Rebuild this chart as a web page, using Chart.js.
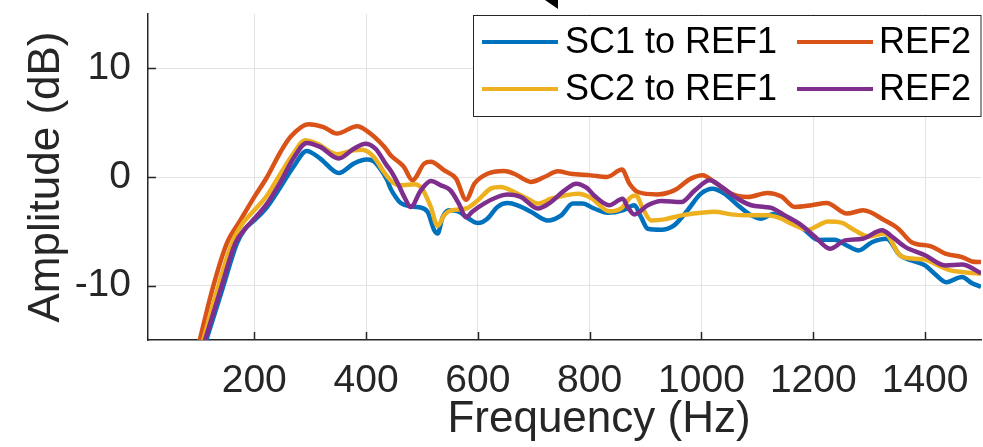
<!DOCTYPE html>
<html>
<head>
<meta charset="utf-8">
<script src="https://cdn.jsdelivr.net/npm/chart.js@4.4.1/dist/chart.umd.min.js"></script>
<style>
  html, body { margin: 0; padding: 0; background: #ffffff; }
  #wrap { width: 983px; height: 447px; }
</style>
</head>
<body>
<div id="wrap"><canvas id="chart" width="983" height="447"></canvas></div>
<script>
// values (frequency in Hz, amplitude in dB)
const sc1Freq = [100, 131, 145, 169, 184, 200, 223, 247, 270, 294, 318, 351, 378, 401, 412, 425, 438, 444, 453, 462, 480, 492, 510, 522, 528, 537, 549, 566, 584, 600, 617, 635, 653, 671, 695, 725, 749, 770, 787, 808, 832, 859, 880, 892, 904, 928, 951, 975, 999, 1020, 1041, 1065, 1089, 1107, 1128, 1143, 1161, 1185, 1209, 1238, 1260, 1281, 1305, 1331, 1355, 1376, 1400, 1417, 1438, 1466, 1484, 1500];
const sc1Amp = [-17.3, -12.3, -10, -6.1, -4.76, -4.0, -2.76, -0.92, 0.92, 2.4, 1.7, 0.37, 1.23, 1.6, 1.5, 0.8, -0.3, -1.07, -1.84, -2.4, -2.7, -2.76, -3.2, -4.9, -5.2, -3.7, -3.07, -3.2, -3.84, -4.24, -3.84, -2.76, -2.4, -2.6, -3.2, -4.0, -3.53, -2.45, -2.45, -2.9, -3.3, -3.07, -2.6, -3.7, -4.76, -4.85, -4.45, -3.07, -1.53, -1.07, -1.53, -2.6, -3.53, -3.84, -3.4, -3.7, -4.0, -4.9, -5.8, -5.77, -6.3, -6.76, -6.0, -5.68, -7.2, -7.68, -8.14, -8.9, -9.68, -9.2, -9.77, -10.1];

const ref2aFreq = [95, 127, 151, 175, 200, 223, 247, 265, 297, 324, 348, 384, 400, 433, 444, 462, 468, 483, 504, 516, 540, 561, 579, 594, 617, 647, 665, 695, 719, 743, 766, 802, 831, 858, 871, 886, 921, 951, 981, 1002, 1023, 1053, 1083, 1118, 1143, 1167, 1197, 1224, 1260, 1289, 1328, 1352, 1376, 1412, 1436, 1466, 1484, 1500];
const ref2aAmp = [-16.6, -10, -6.1, -4.0, -1.85, 0, 2.3, 3.7, 4.86, 4.6, 4.0, 4.67, 4.3, 2.77, 2.0, 1.23, 0.92, -0.3, 1.23, 1.4, 0.6, -0.15, -2.1, -0.6, 0.3, 0.55, 0.3, -0.45, 0, 0.52, 0.3, 0.15, 0, 0.68, -0.6, -1.38, -1.6, -1.23, -0.15, 0.16, -0.46, -1.53, -1.84, -1.47, -1.8, -2.76, -2.6, -2.4, -3.37, -3.07, -4.0, -4.76, -6.0, -6.4, -7.06, -7.37, -7.77, -7.83];

const sc2Freq = [100, 136, 160, 181, 200, 223, 247, 270, 291, 312, 348, 378, 393, 414, 432, 447, 462, 486, 500, 516, 528, 540, 552, 579, 600, 623, 641, 665, 689, 707, 731, 755, 779, 802, 835, 856, 874, 883, 895, 910, 934, 964, 999, 1023, 1053, 1083, 1118, 1143, 1161, 1191, 1209, 1226, 1250, 1274, 1298, 1328, 1355, 1376, 1400, 1424, 1445, 1469, 1500];
const sc2Amp = [-16.7, -10, -6.1, -4.15, -3.07, -1.7, 0.3, 2.15, 3.38, 3.07, 2.1, 2.46, 2.5, 1.84, 0.46, -0.46, -0.77, -0.67, -1.07, -2.76, -4.5, -3.5, -3.07, -2.9, -2.15, -1.07, -0.92, -1.38, -2.0, -2.45, -2.0, -1.7, -1.53, -1.9, -3.16, -2.9, -1.84, -1.7, -2.9, -4.0, -3.9, -3.53, -3.3, -3.2, -3.44, -3.53, -3.53, -3.84, -4.3, -4.85, -4.45, -4.1, -4.2, -4.9, -5.47, -5.2, -7.2, -7.5, -7.6, -8.14, -8.6, -8.76, -8.9];

const ref2bFreq = [100, 142, 166, 184, 200, 223, 247, 270, 294, 318, 351, 378, 399, 417, 437, 444, 456, 470, 480, 498, 516, 534, 551, 566, 579, 590, 611, 635, 653, 677, 707, 731, 755, 776, 795, 808, 835, 859, 868, 880, 904, 928, 964, 988, 1015, 1036, 1065, 1089, 1113, 1125, 1149, 1179, 1203, 1230, 1257, 1288, 1323, 1341, 1365, 1400, 1436, 1466, 1500];
const ref2bAmp = [-17, -10, -6.1, -4.76, -3.84, -2.45, -0.46, 1.7, 3.14, 2.77, 1.7, 2.6, 3.07, 2.6, 1.07, 0.6, -0.5, -2.0, -2.76, -1.23, -0.37, -0.77, -1.23, -2.45, -3.7, -3.2, -2.45, -1.84, -1.62, -1.84, -2.9, -2.3, -1.23, -0.61, -1.0, -1.7, -2.6, -2.0, -2.76, -3.44, -2.6, -2.2, -2.3, -1.23, -0.3, -0.92, -2.0, -2.6, -2.76, -2.85, -3.53, -4.45, -5.5, -6.6, -5.83, -5.68, -4.9, -5.5, -6.45, -7.2, -8.14, -8.05, -8.85];

const seriesLabels = ['SC1 to REF1', 'REF2', 'SC2 to REF1', 'REF2'];
const seriesColors = ['#0072BD', '#D95319', '#EDB120', '#7E2F8E'];
const xTicks = [200, 400, 600, 800, 1000, 1200, 1400];
const yTicks = [-10, 0, 10];
const xTitle = 'Frequency (Hz)';
const yTitle = 'Amplitude (dB)';

const FONT = "'Liberation Sans', Arial, Helvetica, sans-serif";
const AXIS_COLOR = '#262626';

function toPoints(freq, amp) {
  return freq.map((f, i) => ({ x: f, y: amp[i] }));
}

const dataSets = [
  [sc1Freq, sc1Amp],
  [ref2aFreq, ref2aAmp],
  [sc2Freq, sc2Amp],
  [ref2bFreq, ref2bAmp]
].map(([f, a], i) => ({
  label: seriesLabels[i],
  data: toPoints(f, a),
  borderColor: seriesColors[i],
  backgroundColor: seriesColors[i],
  borderWidth: 4.5,
  pointRadius: 0,
  cubicInterpolationMode: 'monotone',
  fill: false,
  order: 4 - i // later series on top, like MATLAB
}));

// inward tick marks on the left and bottom axes
const innerTicks = {
  id: 'innerTicks',
  afterDatasetsDraw(chart) {
    const { ctx, chartArea, scales } = chart;
    ctx.save();
    ctx.strokeStyle = AXIS_COLOR;
    ctx.lineWidth = 1.5;
    ctx.beginPath();
    xTicks.forEach(v => {
      const px = Math.round(scales.x.getPixelForValue(v)) + 0.5;
      ctx.moveTo(px, chartArea.bottom);
      ctx.lineTo(px, chartArea.bottom - 8);
    });
    yTicks.forEach(v => {
      const py = Math.round(scales.y.getPixelForValue(v)) + 0.5;
      ctx.moveTo(chartArea.left, py);
      ctx.lineTo(chartArea.left + 8, py);
    });
    ctx.stroke();
    ctx.restore();
  }
};

// boxed two-column legend in the top right corner, x title, and the cut-off arrow head
const boxLegend = {
  id: 'boxLegend',
  afterDraw(chart) {
    const { ctx, chartArea } = chart;
    const right = chartArea.right;
    const box = { x: 473.5, y: 15.5, w: right - 473.5, h: 101 };
    ctx.save();
    ctx.fillStyle = '#ffffff';
    ctx.fillRect(box.x, box.y, box.w, box.h);
    ctx.strokeStyle = AXIS_COLOR;
    ctx.lineWidth = 1;
    ctx.strokeRect(box.x, box.y, box.w, box.h);

    const cols = [{ line: 482, text: 565 }, { line: 797, text: 879 }];
    const rows = [42, 89];
    ctx.font = '36px ' + FONT;
    ctx.textBaseline = 'middle';
    ctx.textAlign = 'left';
    chart.data.datasets.forEach((ds, i) => {
      const c = cols[i % 2];
      const r = rows[Math.floor(i / 2)];
      ctx.strokeStyle = ds.borderColor;
      ctx.lineWidth = 4;
      ctx.beginPath();
      ctx.moveTo(c.line, r);
      ctx.lineTo(c.line + 76, r);
      ctx.stroke();
      ctx.fillStyle = '#000000';
      ctx.fillText(ds.label, c.text, r + 1);
    });

    // x axis title sits right of the plot centre in the reference
    ctx.font = '44px ' + FONT;
    ctx.fillStyle = AXIS_COLOR;
    ctx.textAlign = 'center';
    ctx.fillText(xTitle, 599, 420);

    ctx.fillStyle = '#000000';
    ctx.beginPath();
    ctx.moveTo(545, 0);
    ctx.lineTo(558, 0);
    ctx.lineTo(558, 9);
    ctx.closePath();
    ctx.fill();
    ctx.restore();
  }
};

new Chart(document.getElementById('chart').getContext('2d'), {
  type: 'line',
  data: { datasets: dataSets },
  options: {
    responsive: false,
    animation: false,
    layout: { padding: { top: 14, right: 2, left: 0, bottom: 0 } },
    plugins: {
      legend: { display: false },
      tooltip: { enabled: false }
    },
    scales: {
      x: {
        type: 'linear',
        min: 10,
        max: 1500,
        afterBuildTicks: (scale) => { scale.ticks = xTicks.map(v => ({ value: v })); },
        afterFit: (scale) => {
          scale.height = 107;
          scale.paddingLeft = 0;
          scale.paddingRight = 0;
        },
        ticks: {
          color: AXIS_COLOR,
          font: { family: FONT, size: 39 },
          padding: 18,
          maxRotation: 0,
          autoSkip: false,
          callback: (v) => String(v)
        },
        grid: { color: '#e3e3e3', lineWidth: 1, drawTicks: false },
        border: { display: true, color: AXIS_COLOR, width: 1.5 }
      },
      y: {
        min: -15,
        max: 15,
        afterBuildTicks: (scale) => { scale.ticks = yTicks.map(v => ({ value: v })); },
        afterFit: (scale) => {
          scale.width = 148;
          scale.paddingTop = 0;
          scale.paddingBottom = 0;
        },
        ticks: {
          color: AXIS_COLOR,
          font: { family: FONT, size: 39 },
          padding: 17,
          callback: (v) => String(v)
        },
        grid: { color: '#e3e3e3', lineWidth: 1, drawTicks: false },
        border: { display: true, color: AXIS_COLOR, width: 1.5 },
        title: {
          display: true,
          text: yTitle,
          color: AXIS_COLOR,
          font: { family: FONT, size: 44 },
          padding: { top: 20, bottom: 0 }
        }
      }
    }
  },
  plugins: [innerTicks, boxLegend]
});
</script>
</body>
</html>
